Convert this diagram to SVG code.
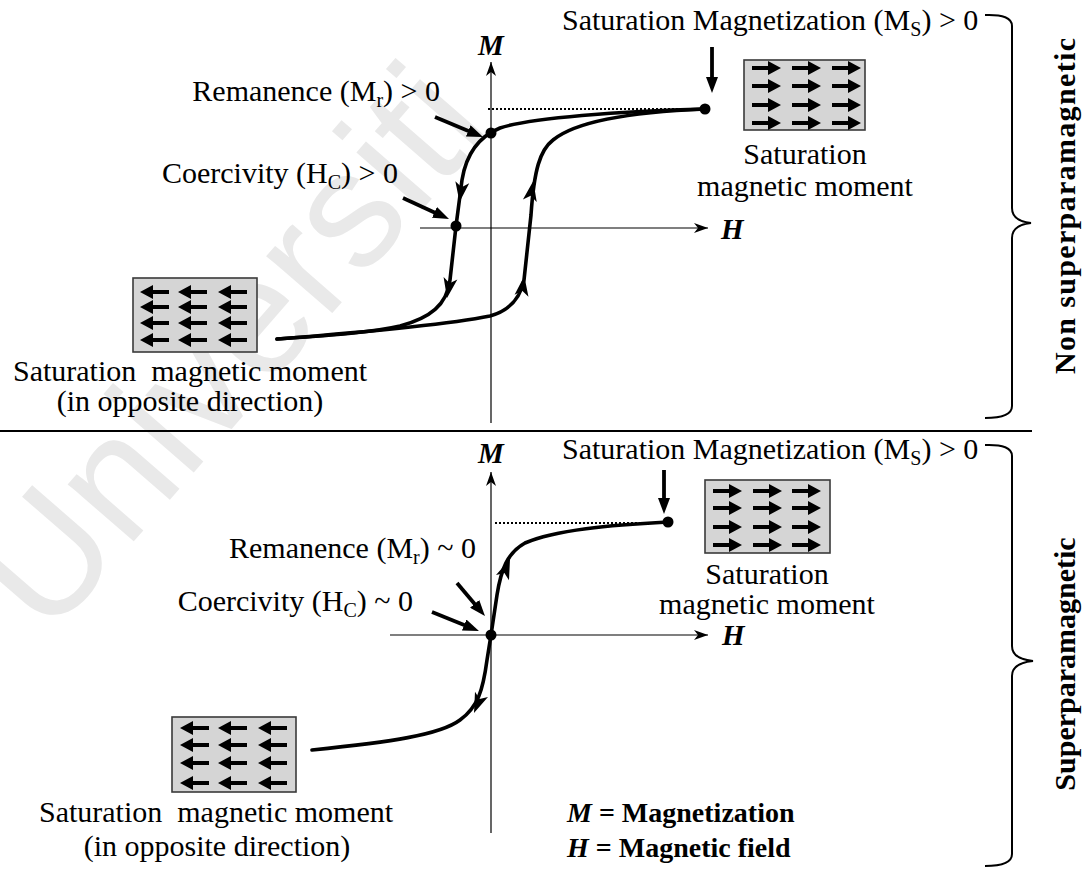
<svg xmlns="http://www.w3.org/2000/svg" xmlns:xlink="http://www.w3.org/1999/xlink" width="1088" height="871" viewBox="0 0 1088 871">
<style>
text{font-family:"Liberation Serif","Times New Roman",serif;fill:#000}
.t{font-size:30px}
.sub{font-size:20px}
.ax{font-size:29px;font-weight:bold;font-style:italic}
.bold{font-weight:bold;font-size:28px}
.vert{font-weight:bold;font-size:30px}
.axis{stroke:#000;stroke-width:1.2;fill:none}
.curve{stroke:#000;stroke-width:3.6;fill:none;stroke-linecap:round;stroke-linejoin:round}
.lab{stroke:#000;stroke-width:3.8;fill:none}
.dot{stroke:#000;stroke-width:2;stroke-dasharray:2 2;fill:none}
.box{fill:#d5d5d5;stroke:#3a3a3a;stroke-width:1.6}
.brace{stroke:#000;stroke-width:2;fill:none}
.wm{font-family:"Liberation Sans",Arial,sans-serif;font-size:165px;fill:#e9e9e9}
</style>
<defs>
<marker id="axh" viewBox="0 0 14 10" refX="14" refY="5" markerWidth="14" markerHeight="10" markerUnits="userSpaceOnUse" orient="auto"><path d="M0,0 L14,5 L0,10 L4,5 Z" fill="#000"/></marker>
<marker id="lh" viewBox="0 0 16 12" refX="6" refY="6" markerWidth="16" markerHeight="12" markerUnits="userSpaceOnUse" orient="auto"><path d="M0,0 L16,6 L0,12 Z" fill="#000"/></marker>
<path id="ch" d="M0,0 L-20,-7 L-15,0 L-20,7 Z" fill="#000"/>
<path id="ra" d="M0,-2 H16 V-7 L29,0 L16,7 V2 H0 Z" fill="#000"/>
<path id="la" d="M0,0 L13,-7 V-2 H29 V2 H13 V7 Z" fill="#000"/>
</defs>
<rect width="1088" height="871" fill="#fff"/>
<text class="wm" transform="translate(48,640) rotate(-49)">Universiti</text>

<g id="separator"><line x1="0" y1="431" x2="1032" y2="431" stroke="#000" stroke-width="2"/></g>

<!-- TOP PANEL -->
<g id="top-axes">
<line class="axis" x1="491" y1="423" x2="491" y2="62" marker-end="url(#axh)"/>
<line class="axis" x1="420" y1="228" x2="708" y2="228" marker-end="url(#axh)"/>
<text class="ax" x="491" y="55" text-anchor="middle">M</text>
<text class="ax" x="721" y="239">H</text>
<line class="dot" x1="488" y1="109" x2="703" y2="109"/>
</g>
<g id="top-loop">
<path class="curve" d="M705,109 C620,111 530,118 500,128 C478,137 466,155 462,180 L456,226 L450,280 C447,305 430,318 400,326 C370,333 320,336 277,339"/>
<path class="curve" d="M277,339 C380,331 460,322 490,316 C508,311 520,300 524,280 L531,215 C534,170 540,150 553,140 C575,122 630,112 705,109"/>
<use href="#ch" transform="translate(459.5,202) rotate(98)"/>
<use href="#ch" transform="translate(447,298) rotate(100)"/>
<use href="#ch" transform="translate(524.3,276) rotate(-82)"/>
<use href="#ch" transform="translate(533.3,181) rotate(-80)"/>
<circle cx="705" cy="109" r="5.5"/>
<circle cx="491" cy="133" r="5.5"/>
<circle cx="456" cy="226" r="5.5"/>
</g>
<g id="top-sat-label">
<text class="t" x="562" y="30">Saturation Magnetization (M<tspan class="sub" dy="6">S</tspan><tspan dy="-6">) &gt; 0</tspan></text>
<line class="lab" x1="712" y1="47" x2="712" y2="83" marker-end="url(#lh)"/>
</g>
<g id="top-remanence">
<text class="t" x="440" y="101" text-anchor="end">Remanence (M<tspan class="sub" dy="6">r</tspan><tspan dy="-6">) &gt; 0</tspan></text>
<line class="lab" x1="435" y1="117" x2="473.8" y2="133.2" marker-end="url(#lh)"/>
</g>
<g id="top-coercivity">
<text class="t" x="398" y="183" text-anchor="end">Coercivity (H<tspan class="sub" dy="6">C</tspan><tspan dy="-6">) &gt; 0</tspan></text>
<line class="lab" x1="403" y1="198" x2="439.9" y2="214.9" marker-end="url(#lh)"/>
</g>
<g id="top-right-moment">
<rect class="box" x="744" y="60" width="121" height="70"/>
<use href="#ra" x="752" y="68"/><use href="#ra" x="792" y="68"/><use href="#ra" x="832" y="68"/>
<use href="#ra" x="752" y="86"/><use href="#ra" x="792" y="86"/><use href="#ra" x="832" y="86"/>
<use href="#ra" x="752" y="105"/><use href="#ra" x="792" y="105"/><use href="#ra" x="832" y="105"/>
<use href="#ra" x="752" y="123"/><use href="#ra" x="792" y="123"/><use href="#ra" x="832" y="123"/>
<text class="t" x="805" y="164" text-anchor="middle">Saturation</text>
<text class="t" x="805" y="196" text-anchor="middle">magnetic moment</text>
</g>
<g id="top-left-moment">
<rect class="box" x="133" y="278" width="124" height="74"/>
<use href="#la" x="140" y="292"/><use href="#la" x="178" y="292"/><use href="#la" x="218" y="292"/>
<use href="#la" x="140" y="307"/><use href="#la" x="178" y="307"/><use href="#la" x="218" y="307"/>
<use href="#la" x="140" y="323"/><use href="#la" x="178" y="323"/><use href="#la" x="218" y="323"/>
<use href="#la" x="140" y="340"/><use href="#la" x="178" y="340"/><use href="#la" x="218" y="340"/>
<text class="t" x="190" y="381" text-anchor="middle" xml:space="preserve">Saturation  magnetic moment</text>
<text class="t" x="190" y="411" text-anchor="middle">(in opposite direction)</text>
</g>
<g id="top-brace">
<path class="brace" d="M985,15 Q1012,14 1012,26 L1012,208 Q1012,221 1031,223 Q1012,225 1012,238 L1012,406 Q1012,418 985,418"/>
<text class="vert" transform="translate(1075,206) rotate(-90)" text-anchor="middle" textLength="336">Non superparamagnetic</text>
</g>

<!-- BOTTOM PANEL -->
<g id="bottom-axes">
<line class="axis" x1="491" y1="833" x2="491" y2="472" marker-end="url(#axh)"/>
<line class="axis" x1="390" y1="635" x2="708" y2="635" marker-end="url(#axh)"/>
<text class="ax" x="491" y="463" text-anchor="middle">M</text>
<text class="ax" x="722" y="645">H</text>
<line class="dot" x1="495" y1="523" x2="666" y2="523"/>
</g>
<g id="bottom-loop">
<path class="curve" d="M312,750 C390,742 440,735 460,720 C478,707 483,690 487,660 L491,635 L497,595 C501,570 507,553 525,543 C555,530 610,525 668,522"/>
<use href="#ch" transform="translate(474,713) rotate(112)"/>
<use href="#ch" transform="translate(510,559) rotate(-68)"/>
<circle cx="668" cy="522" r="5.5"/>
<circle cx="491" cy="635" r="5.5"/>
</g>
<g id="bottom-sat-label">
<text class="t" x="562" y="459">Saturation Magnetization (M<tspan class="sub" dy="6">S</tspan><tspan dy="-6">) &gt; 0</tspan></text>
<line class="lab" x1="664" y1="470" x2="664" y2="504" marker-end="url(#lh)"/>
</g>
<g id="bottom-remanence">
<text class="t" x="476" y="558" text-anchor="end">Remanence (M<tspan class="sub" dy="6">r</tspan><tspan dy="-6">) ~ 0</tspan></text>
<line class="lab" x1="457" y1="583" x2="478.5" y2="608.4" marker-end="url(#lh)"/>
</g>
<g id="bottom-coercivity">
<text class="t" x="413" y="611" text-anchor="end">Coercivity (H<tspan class="sub" dy="6">C</tspan><tspan dy="-6">) ~ 0</tspan></text>
<line class="lab" x1="432" y1="612" x2="469.7" y2="627.3" marker-end="url(#lh)"/>
</g>
<g id="bottom-right-moment">
<rect class="box" x="705" y="480" width="125" height="73"/>
<use href="#ra" x="713" y="491"/><use href="#ra" x="753" y="491"/><use href="#ra" x="792" y="491"/>
<use href="#ra" x="713" y="508"/><use href="#ra" x="753" y="508"/><use href="#ra" x="792" y="508"/>
<use href="#ra" x="713" y="527"/><use href="#ra" x="753" y="527"/><use href="#ra" x="792" y="527"/>
<use href="#ra" x="713" y="545"/><use href="#ra" x="753" y="545"/><use href="#ra" x="792" y="545"/>
<text class="t" x="767" y="584" text-anchor="middle">Saturation</text>
<text class="t" x="767" y="614" text-anchor="middle">magnetic moment</text>
</g>
<g id="bottom-left-moment">
<rect class="box" x="172" y="717" width="124" height="75"/>
<use href="#la" x="180" y="728"/><use href="#la" x="218" y="728"/><use href="#la" x="258" y="728"/>
<use href="#la" x="180" y="745"/><use href="#la" x="218" y="745"/><use href="#la" x="258" y="745"/>
<use href="#la" x="180" y="763"/><use href="#la" x="218" y="763"/><use href="#la" x="258" y="763"/>
<use href="#la" x="180" y="783"/><use href="#la" x="218" y="783"/><use href="#la" x="258" y="783"/>
<text class="t" x="216" y="822" text-anchor="middle" xml:space="preserve">Saturation  magnetic moment</text>
<text class="t" x="217" y="856" text-anchor="middle">(in opposite direction)</text>
</g>
<g id="legend">
<text class="bold" x="567" y="822"><tspan font-style="italic">M</tspan> = Magnetization</text>
<text class="bold" x="567" y="857"><tspan font-style="italic">H</tspan> = Magnetic field</text>
</g>
<g id="bottom-brace">
<path class="brace" d="M985,445 Q1012,444 1012,456 L1012,646 Q1012,659 1033,661 Q1012,663 1012,676 L1012,854 Q1012,866 985,866"/>
<text class="vert" transform="translate(1075,664) rotate(-90)" text-anchor="middle">Superparamagnetic</text>
</g>
</svg>
